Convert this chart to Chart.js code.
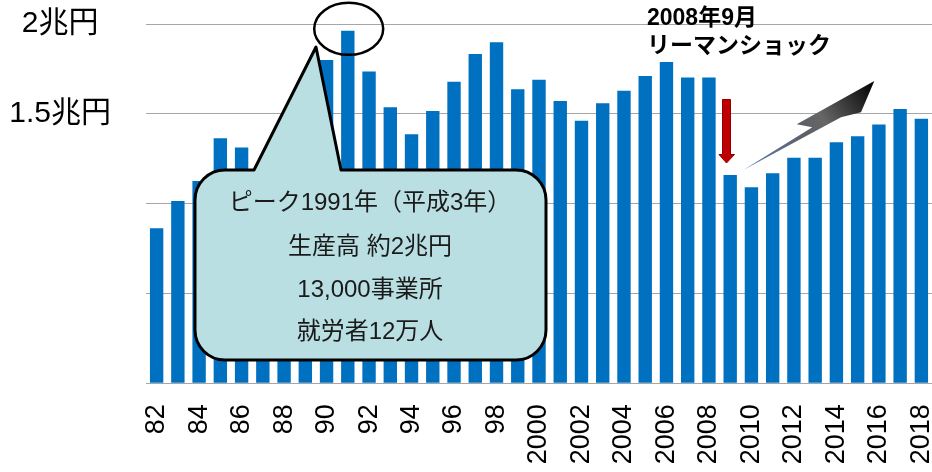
<!DOCTYPE html>
<html lang="ja">
<head>
<meta charset="UTF-8">
<title>生産高の推移</title>
<script src="https://cdn.jsdelivr.net/npm/chart.js@4.4.0/dist/chart.umd.min.js"></script>
<style>
  html, body { margin:0; padding:0; background:#fff; }
  #wrap { width:932px; height:472px; }
</style>
</head>
<body>
<div id="wrap"><canvas id="myChart" width="932" height="472"></canvas></div>
<script>
// 年 (横軸)
const years = ['82','83','84','85','86','87','88','89','90','91','92','93','94','95','96','97','98','99',
  '2000','2001','2002','2003','2004','2005','2006','2007','2008','2009','2010','2011','2012','2013',
  '2014','2015','2016','2017','2018'];
// 生産高 (兆円) 87〜89は吹き出しに隠れているので推定
const output = [0.863,1.015,1.126,1.364,1.312,1.14,1.32,1.55,1.80,1.962,1.735,1.537,1.386,1.516,1.679,1.833,1.899,1.637,
  1.690,1.572,1.462,1.559,1.628,1.711,1.789,1.702,1.702,1.160,1.091,1.169,1.256,1.256,
  1.342,1.375,1.440,1.527,1.473];
// 縦軸ラベル
const yTickValues = [1.5, 2];
const yTickLabels = ['1.5兆円', '2兆円'];
// 注記
const calloutLines = ['ピーク1991年（平成3年）', '生産高 約2兆円', '13,000事業所', '就労者12万人'];
const shockLines = ['2008年9月', 'リーマンショック'];

const FONT = '"Liberation Sans", "Noto Sans CJK JP", sans-serif';

// 吹き出し・矢印など
const overlay = {
  id: 'overlay',
  afterDraw(chart) {
    const ctx = chart.ctx;
    ctx.save();

    // 吹き出し
    const L = 195, T = 170, R = 546, B = 360, r = 30;
    ctx.beginPath();
    ctx.moveTo(L + r, T);
    ctx.lineTo(254, T);
    ctx.lineTo(316, 47);
    ctx.lineTo(341, T);
    ctx.lineTo(R - r, T);
    ctx.arcTo(R, T, R, T + r, r);
    ctx.lineTo(R, B - r);
    ctx.arcTo(R, B, R - r, B, r);
    ctx.lineTo(L + r, B);
    ctx.arcTo(L, B, L, B - r, r);
    ctx.lineTo(L, T + r);
    ctx.arcTo(L, T, L + r, T, r);
    ctx.closePath();
    ctx.fillStyle = '#badfe3';
    ctx.fill();
    ctx.lineWidth = 3;
    ctx.lineJoin = 'round';
    ctx.strokeStyle = '#000';
    ctx.stroke();

    ctx.fillStyle = '#1a1a1a';
    ctx.font = '24px ' + FONT;
    ctx.textAlign = 'center';
    ctx.textBaseline = 'middle';
    const lineY = [203, 247, 290, 332];
    calloutLines.forEach((t, i) => ctx.fillText(t, 370, lineY[i]));

    // ピークの丸
    ctx.beginPath();
    ctx.ellipse(348.7, 28.8, 34.5, 26, 0, 0, Math.PI * 2);
    ctx.lineWidth = 2.5;
    ctx.strokeStyle = '#000';
    ctx.stroke();

    // リーマンショック
    ctx.fillStyle = '#000';
    ctx.font = 'bold 23px ' + FONT;
    ctx.textAlign = 'left';
    ctx.fillText(shockLines[0], 647, 19);
    ctx.fillText(shockLines[1], 647, 47);

    // 赤い下向き矢印
    ctx.beginPath();
    ctx.moveTo(722.5, 99.5);
    ctx.lineTo(730.5, 99.5);
    ctx.lineTo(730.5, 154.5);
    ctx.lineTo(734.5, 154.5);
    ctx.lineTo(726.5, 163);
    ctx.lineTo(719, 154.5);
    ctx.lineTo(722.5, 154.5);
    ctx.closePath();
    ctx.fillStyle = '#c00000';
    ctx.fill();
    ctx.lineWidth = 1;
    ctx.strokeStyle = '#900000';
    ctx.stroke();

    // 回復の矢印
    const g = ctx.createLinearGradient(743, 170, 874, 81);
    g.addColorStop(0, '#5a7cb0');
    g.addColorStop(0.45, '#5c6068');
    g.addColorStop(0.6, '#666');
    g.addColorStop(1, '#000');
    ctx.beginPath();
    ctx.moveTo(743.3, 170);
    ctx.lineTo(812.3, 127.3);
    ctx.lineTo(796.7, 124.3);
    ctx.lineTo(874.3, 81);
    ctx.lineTo(861, 112.3);
    ctx.lineTo(841, 117.3);
    ctx.closePath();
    ctx.fillStyle = g;
    ctx.fill();

    ctx.restore();
  }
};

const ctx = document.getElementById('myChart').getContext('2d');
const myChart = new Chart(ctx, {
  type: 'bar',
  data: {
    labels: years,
    datasets: [{
      data: output,
      backgroundColor: '#0070c0',
      borderWidth: 0,
      barPercentage: 0.63,
      categoryPercentage: 1.0
    }]
  },
  options: {
    responsive: false,
    animation: false,
    layout: { padding: { top: 24, bottom: 0, left: 0, right: 0 } },
    plugins: { legend: { display: false }, tooltip: { enabled: false } },
    scales: {
      x: {
        grid: { display: false, drawTicks: false },
        border: { display: true, color: '#a6a6a6' },
        ticks: {
          autoSkip: false,
          minRotation: 90,
          maxRotation: 90,
          padding: 21,
          color: '#000',
          font: { family: FONT, size: 27 },
          callback: (v, i) => (i % 2 === 0 ? years[i] : '')
        },
        afterFit: (scale) => {
          scale.paddingLeft = 0;
          scale.paddingRight = 0;
          scale.height = 88.7;
        }
      },
      y: {
        min: 0,
        max: 2,
        grid: { color: '#a6a6a6', drawTicks: false },
        border: { display: false },
        ticks: {
          stepSize: 0.5,
          padding: 35,
          crossAlign: 'center',
          color: '#000',
          font: { family: FONT, size: 30 },
          callback: (v) => {
            const i = yTickValues.indexOf(v);
            return i >= 0 ? yTickLabels[i] : '';
          }
        },
        afterFit: (scale) => {
          scale.width = 146;
          scale.paddingTop = 0;
          scale.paddingBottom = 0;
        }
      }
    }
  },
  plugins: [overlay]
});
</script>
</body>
</html>
